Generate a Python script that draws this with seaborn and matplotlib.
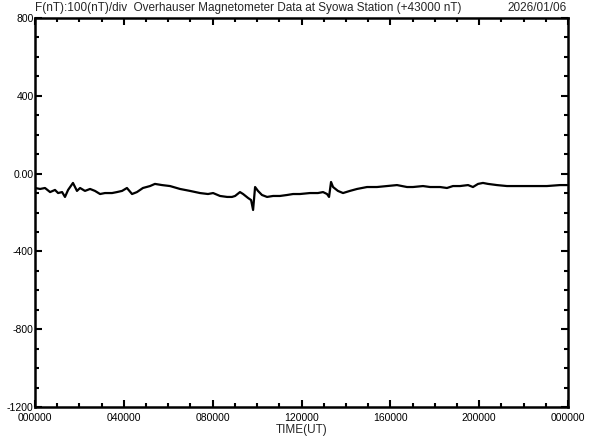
import matplotlib
matplotlib.use("Agg")
import matplotlib.pyplot as plt
import seaborn as sns
import pandas as pd
from matplotlib.ticker import MultipleLocator

# Values (time in hours UT, F in nT relative to 43000 nT)
hours = [0.00, 0.23, 0.45, 0.68, 0.90, 1.04, 1.22, 1.35, 1.49, 1.71, 1.89, 2.03,
         2.25, 2.48, 2.70, 2.93, 3.15, 3.47, 3.69, 3.92, 4.14, 4.37, 4.59, 4.86,
         5.18, 5.40, 5.72, 6.08, 6.53, 6.98, 7.43, 7.79, 8.02, 8.33, 8.65, 8.87,
         9.01, 9.23, 9.37, 9.59, 9.73, 9.82, 9.91, 10.04, 10.22, 10.45, 10.72,
         11.03, 11.35, 11.62, 11.93, 12.38, 12.74, 12.97, 13.15, 13.24, 13.33,
         13.42, 13.64, 13.87, 14.18, 14.50, 14.95, 15.40, 15.85, 16.30, 16.75,
         17.02, 17.47, 17.79, 18.24, 18.55, 18.82, 19.14, 19.50, 19.72, 19.95,
         20.17, 20.40, 20.80, 21.25, 21.84, 22.42, 23.05, 23.64, 23.96]
f_nt = [-74, -79, -74, -95, -84, -100, -95, -120, -84, -48, -89, -74,
        -89, -79, -89, -105, -100, -100, -95, -89, -74, -105, -95, -74,
        -64, -53, -59, -64, -79, -89, -100, -105, -100, -115, -120, -120,
        -115, -95, -105, -125, -136, -187, -69, -89, -110, -120, -115,
        -115, -110, -105, -105, -100, -100, -95, -105, -120, -43,
        -69, -89, -100, -89, -79, -69, -69, -64, -59, -69,
        -69, -64, -69, -69, -74, -64, -64, -59, -69, -53,
        -48, -53, -59, -64, -64, -64, -64, -59, -59]

xtick_pos = [0, 4, 8, 12, 16, 20, 24]
xtick_labels = ["000000", "040000", "080000", "120000", "160000", "200000", "000000"]
ytick_pos = [800, 400, 0, -400, -800, -1200]
ytick_labels = ["800", "400", "0.00", "-400", "-800", "-1200"]

df = pd.DataFrame({"hour": hours, "F": f_nt})

sns.set_style("ticks")
plt.rcParams["font.family"] = ["Liberation Sans", "DejaVu Sans"]

fig = plt.figure(figsize=(5.92, 4.40), dpi=100)
ax = fig.add_axes([35 / 592, 33 / 440, 533 / 592, 389 / 440])

sns.lineplot(data=df, x="hour", y="F", ax=ax, color="black", linewidth=1.6)

ax.set_xlim(0, 24)
ax.set_ylim(-1200, 800)
ax.set_xticks(xtick_pos)
ax.set_xticklabels(xtick_labels)
ax.set_yticks(ytick_pos)
ax.set_yticklabels(ytick_labels)
ax.xaxis.set_minor_locator(MultipleLocator(1))
ax.yaxis.set_minor_locator(MultipleLocator(100))

ax.tick_params(which="both", direction="in", top=True, right=True,
               colors="black", labelsize=7.5, width=1.5)
ax.tick_params(which="major", length=5)
ax.tick_params(which="minor", length=3)
ax.tick_params(axis="x", pad=4)
ax.tick_params(axis="y", pad=1)

for s in ax.spines.values():
    s.set_visible(True)
    s.set_linewidth(1.8)
    s.set_color("black")

ax.set_xlabel("TIME(UT)", fontsize=8.5, labelpad=1)
ax.set_ylabel("")

fig.text(35 / 592, 1 - 8 / 440,
         "F(nT):100(nT)/div  Overhauser Magnetometer Data at Syowa Station (+43000 nT)",
         ha="left", va="center", fontsize=8.5)
fig.text(567 / 592, 1 - 8 / 440, "2026/01/06", ha="right", va="center", fontsize=8.5)

fig.savefig("out.png", dpi=100, facecolor="white")
